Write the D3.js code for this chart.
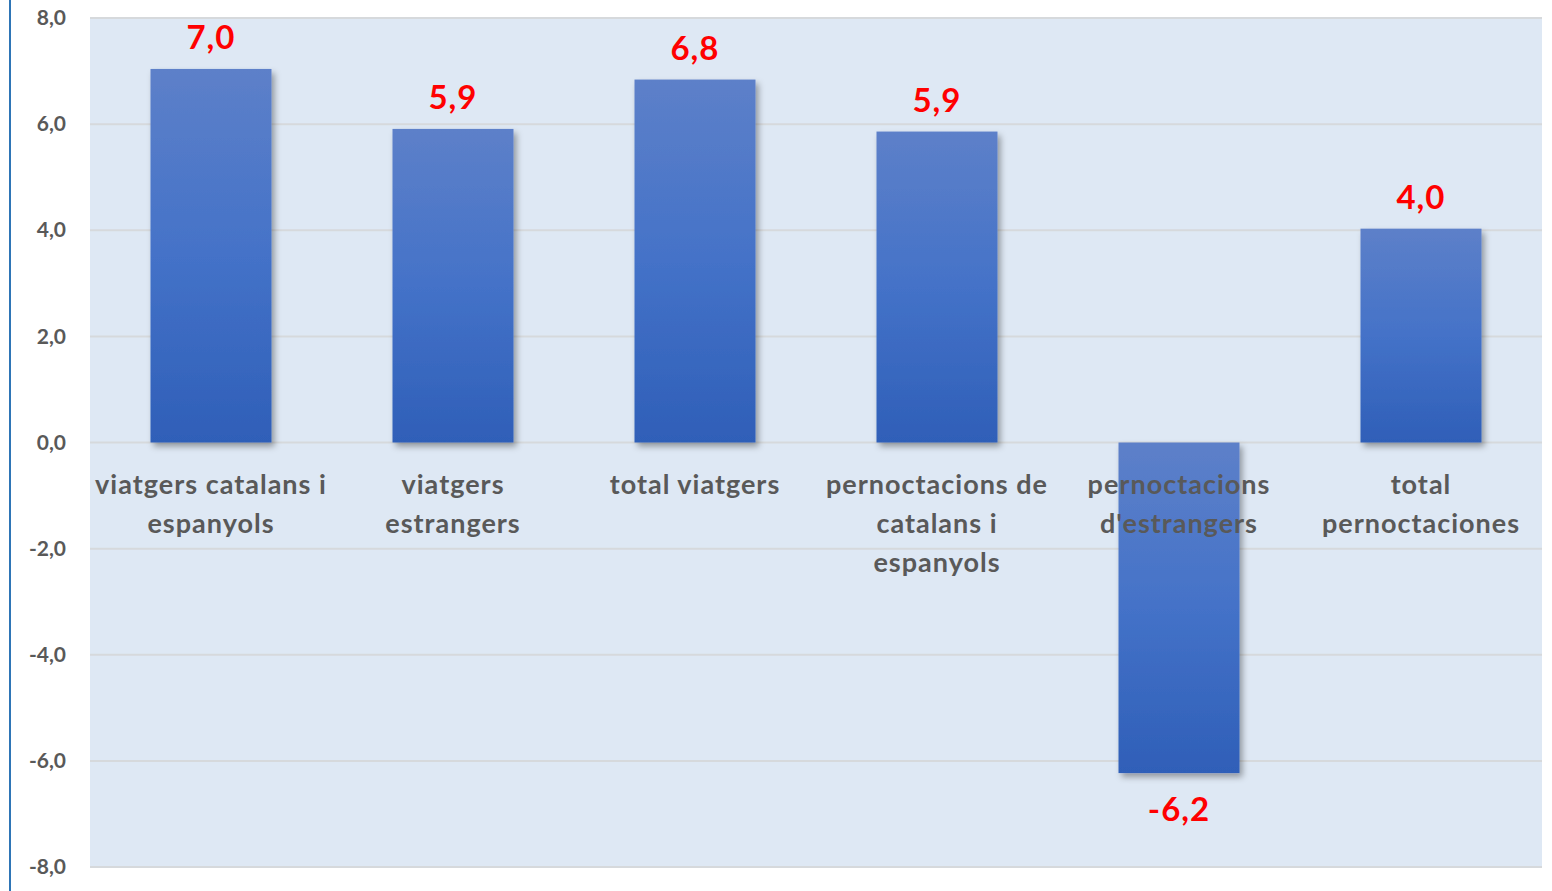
<!DOCTYPE html>
<html>
<head>
<meta charset="utf-8">
<script src="https://cdn.jsdelivr.net/npm/d3@7"></script>
<style>
  body { margin: 0; background: #fff; }
  text { font-family: Lato, "Open Sans", sans-serif; }
</style>
</head>
<body>
<script>
// categories (each as its wrapped lines) and the % change values
const categories = [
    ["viatgers catalans i", "espanyols"],
    ["viatgers", "estrangers"],
    ["total viatgers"],
    ["pernoctacions de", "catalans i", "espanyols"],
    ["pernoctacions", "d'estrangers"],
    ["total", "pernoctaciones"]
];
const values = [7.04, 5.91, 6.84, 5.86, -6.23, 4.03];
const yTicks = [-8, -6, -4, -2, 0, 2, 4, 6, 8];

const fmt = v => d3.format(".1f")(v).replace("−", "-").replace(".", ",");

const W = 1552, H = 891;
const margin = { top: 18, right: 10, bottom: 24, left: 90 };
const width = W - margin.left - margin.right,
    height = H - margin.top - margin.bottom;

const svg = d3.select("body").append("svg")
    .attr("width", W)
    .attr("height", H);

// left blue border line
svg.append("line")
    .attr("x1", 10).attr("x2", 10)
    .attr("y1", 0).attr("y2", H)
    .attr("stroke", "#2e75b6")
    .attr("stroke-width", 2);

const defs = svg.append("defs");
const grad = defs.append("linearGradient")
    .attr("id", "barGrad")
    .attr("x1", 0).attr("y1", 0).attr("x2", 0).attr("y2", 1);
grad.append("stop").attr("offset", "0%").attr("stop-color", "#5d80c9");
grad.append("stop").attr("offset", "50%").attr("stop-color", "#4472c8");
grad.append("stop").attr("offset", "100%").attr("stop-color", "#2f5fb8");

const shadow = defs.append("filter").attr("id", "shadow")
    .attr("x", "-10%").attr("y", "-10%").attr("width", "130%").attr("height", "130%");
shadow.append("feDropShadow")
    .attr("dx", 3).attr("dy", 4).attr("stdDeviation", 3)
    .attr("flood-color", "#000").attr("flood-opacity", 0.35);

const g = svg.append("g")
    .attr("transform", "translate(" + margin.left + "," + margin.top + ")");

const x = d3.scaleBand()
    .domain(d3.range(categories.length))
    .range([0, width])
    .paddingInner(0.5)
    .paddingOuter(0.25);

const y = d3.scaleLinear()
    .domain([-8, 8])
    .range([height, 0]);

// plot background
g.append("rect")
    .attr("width", width)
    .attr("height", height)
    .attr("fill", "#dee8f4");

// gridlines
g.selectAll(".grid")
    .data(yTicks)
    .enter().append("line")
    .attr("x1", 0).attr("x2", width)
    .attr("y1", d => y(d)).attr("y2", d => y(d))
    .attr("stroke", "#d6d9dc")
    .attr("stroke-width", 2);

// y axis labels
const yAxis = g.append("g")
    .call(d3.axisLeft(y).tickValues(yTicks).tickFormat(fmt).tickSize(0).tickPadding(24));
yAxis.select(".domain").remove();
yAxis.selectAll("text")
    .attr("fill", "#595959")
    .style("font-size", "21px")
    .style("font-weight", "bold")
    .style("font-family", "Lato, 'Open Sans', sans-serif");

// bars
g.selectAll(".bar")
    .data(values)
    .enter().append("rect")
    .attr("class", "bar")
    .attr("x", (d, i) => x(i))
    .attr("width", x.bandwidth())
    .attr("y", d => y(Math.max(0, d)))
    .attr("height", d => Math.abs(y(d) - y(0)))
    .attr("fill", "url(#barGrad)")
    .attr("filter", "url(#shadow)");

// value labels
g.selectAll(".val")
    .data(values)
    .enter().append("text")
    .attr("x", (d, i) => x(i) + x.bandwidth() / 2)
    .attr("y", d => d >= 0 ? y(d) - 20 : y(d) + 48)
    .attr("text-anchor", "middle")
    .attr("fill", "#ff0000")
    .style("font-size", "33px")
    .style("font-weight", "bold")
    .style("letter-spacing", "1px")
    .text(fmt);

// category labels
const cat = g.selectAll(".cat")
    .data(categories)
    .enter().append("text")
    .attr("x", (d, i) => x(i) + x.bandwidth() / 2)
    .attr("y", y(0) + 51)
    .attr("text-anchor", "middle")
    .attr("fill", "#595959")
    .style("font-size", "27px")
    .style("font-weight", "bold")
    .style("letter-spacing", "1px");
cat.selectAll("tspan")
    .data(d => d)
    .enter().append("tspan")
    .attr("x", function() { return this.parentNode.getAttribute("x"); })
    .attr("dy", (d, i) => i === 0 ? 0 : 39)
    .text(d => d);
</script>
</body>
</html>
